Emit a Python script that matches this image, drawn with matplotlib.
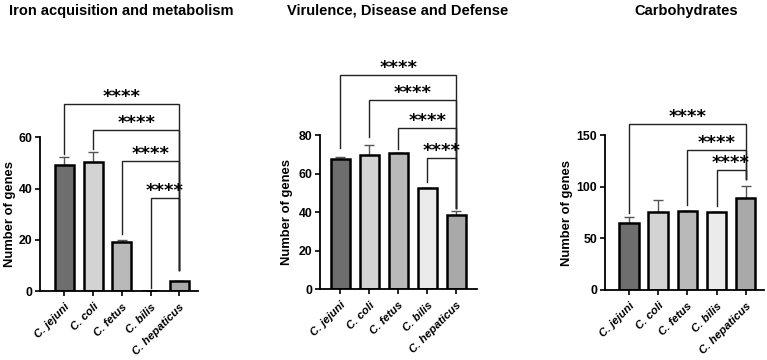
import matplotlib
matplotlib.use("Agg")
import matplotlib.pyplot as plt

plt.rcParams['font.family'] = ['Liberation Sans', 'DejaVu Sans']
plt.rcParams['font.weight'] = 'bold'

species = ['C. jejuni', 'C. coli', 'C. fetus', 'C. bilis', 'C. hepaticus']
bar_colors = ['#6e6e6e', '#d3d3d3', '#b9b9b9', '#ebebeb', '#a9a9a9']

titles = ['Iron acquisition and metabolism', 'Virulence, Disease and Defense', 'Carbohydrates']

iron_means = [49.0, 50.3, 19.0, 0.0, 3.8]
iron_err = [3.3, 3.9, 0.9, 0.0, 0.0]
vir_means = [67.4, 69.8, 70.8, 52.7, 38.5]
vir_err = [1.0, 4.8, 0.0, 0.0, 1.9]
carb_means = [65.2, 75.8, 76.5, 75.2, 88.7]
carb_err = [5.8, 11.3, 0.0, 0.0, 12.3]

iron_yticks = [0, 20, 40, 60]
vir_yticks = [0, 20, 40, 60, 80]
carb_yticks = [0, 50, 100, 150]

# significance brackets: (left index, right index, bracket height, left leg bottom)
iron_sig = [(0, 4, 72.9, 53.6), (1, 4, 62.9, 55.5), (2, 4, 50.8, 22.1), (3, 4, 36.4, 1.3)]
iron_right_leg = 8.2
vir_sig = [(0, 4, 111.0, 73.4), (1, 4, 98.4, 78.8), (2, 4, 83.8, 72.5), (3, 4, 67.9, 55.8)]
vir_right_leg = 42.0
carb_sig = [(0, 4, 160.3, 74.2), (2, 4, 135.5, 82.3), (3, 4, 115.8, 81.3)]
carb_right_leg = 107.4
sig_label = '****'

W, H = 767, 360
fig = plt.figure(figsize=(W / 100, H / 100), dpi=100)

# axes boxes in pixels: left, right, bottom, top
boxes = [(40, 198, 291, 137.3), (320, 476.6, 289.3, 135), (605, 763.8, 290, 135)]
xlims = [(-0.85, 4.65), (-0.70, 4.70), (-0.82, 4.62)]
label_x = [-0.15, -0.17, -0.20]
title_cx = [121.5, 397.8, 686.5]

panels = [
    (iron_means, iron_err, iron_yticks, iron_sig, iron_right_leg),
    (vir_means, vir_err, vir_yticks, vir_sig, vir_right_leg),
    (carb_means, carb_err, carb_yticks, carb_sig, carb_right_leg),
]

for i, (means, errs, yt, sig, rleg) in enumerate(panels):
    l, r, b, t = boxes[i]
    ax = fig.add_axes([l / W, 1 - b / H, (r - l) / W, (b - t) / H])
    x = list(range(len(species)))
    ax.errorbar(x, means, yerr=[[0] * len(errs), errs], fmt='none', ecolor='#555555',
                elinewidth=1.0, capsize=3.3, capthick=1.0, zorder=1)
    ax.bar(x, means, width=0.66, color=bar_colors, edgecolor='black', linewidth=1.8, zorder=2)
    ax.set_xlim(*xlims[i])
    ax.set_ylim(yt[0], yt[-1])
    ax.set_yticks(yt)
    ax.set_xticks(x)
    ax.set_xticklabels(species, rotation=45, ha='right', rotation_mode='anchor',
                       fontsize=8.2, fontweight='bold', fontstyle='italic')
    for lab in ax.get_yticklabels():
        lab.set_fontsize(8.8)
        lab.set_fontweight('bold')
    ax.tick_params(direction='out', length=3.6, width=1.2, pad=2)
    ax.tick_params(axis='x', pad=4)
    for s in ['top', 'right']:
        ax.spines[s].set_visible(False)
    for s in ['left', 'bottom']:
        ax.spines[s].set_linewidth(1.3)
    ax.set_ylabel('Number of genes', fontsize=9.4, fontweight='bold')
    ax.yaxis.set_label_coords(label_x[i], 0.5)

    for (a, c, yb, lleg) in sig:
        ax.plot([a, a, c, c], [lleg, yb, yb, rleg], color='#222222', lw=1.0,
                clip_on=False, zorder=3, solid_joinstyle='miter')
        ax.annotate(sig_label, xy=((a + c) / 2, yb), xytext=(0, 5.0),
                    textcoords='offset points', ha='center', va='center',
                    fontsize=13, fontweight='bold', family=['DejaVu Sans'],
                    annotation_clip=False, zorder=4)

    fig.text(title_cx[i] / W, 1 - 10.5 / H, titles[i], ha='center', va='center',
             fontsize=10.5, fontweight='bold')

fig.savefig('out.png', dpi=100)
